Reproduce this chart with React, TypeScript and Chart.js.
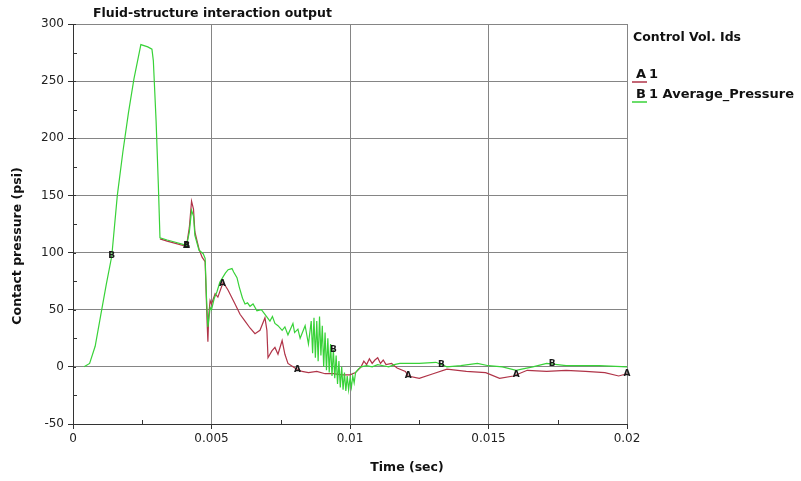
import React, { useEffect, useRef } from "react";
import { Chart, registerables } from "chart.js";
Chart.register(...registerables);

const chartTitle = "Fluid-structure interaction output";
const xAxisTitle = "Time (sec)";
const yAxisTitle = "Contact pressure (psi)";
const legendTitle = "Control Vol. Ids";
const seriesLetters = ["A", "B"];
const seriesNames = ["1", "1 Average_Pressure"];
const xTickLabels = ["0", "0.005", "0.01", "0.015", "0.02"];

// Series A (red) : "1"
const timeA = [
  0.00314, 0.0034, 0.0037, 0.004, 0.0041, 0.0042, 0.00428, 0.00435, 0.0044, 0.00455,
  0.00466, 0.00477, 0.00484, 0.00487, 0.0049, 0.00495, 0.005, 0.00513, 0.00523, 0.00542,
  0.0056, 0.00585, 0.00603, 0.00621, 0.00639, 0.00657, 0.00675, 0.00693, 0.007, 0.00704,
  0.00718, 0.00729, 0.0074, 0.00755, 0.00765, 0.00776, 0.00801, 0.00827, 0.0085, 0.0088,
  0.0091, 0.0094, 0.0097, 0.01, 0.0102, 0.0104, 0.0105, 0.0106, 0.0107, 0.0108,
  0.0109, 0.011, 0.0111, 0.0112, 0.0113, 0.0115, 0.0117, 0.012, 0.0121, 0.0125,
  0.013, 0.0135, 0.0142, 0.0149, 0.0154, 0.0159, 0.0164, 0.0171, 0.0178, 0.0185,
  0.0192, 0.0197, 0.02,
];
const pressureA = [
  112, 110, 108, 106, 106, 122, 145, 138, 118, 103,
  96, 92, 40, 22, 45, 58, 55, 64, 61, 74,
  67, 55, 46, 40, 34, 29, 32, 43, 32, 8,
  14, 17, 11, 23, 11, 3, -1, -4, -5, -4,
  -6, -6, -7, -7, -5, 0, 5, 2, 7, 3,
  6, 8, 3, 6, 2, 3, -1, -4, -8, -10,
  -6, -2, -4, -5, -10, -8, -3, -4, -3, -4,
  -5, -8, -6,
];

// Series B (green) : "1 Average_Pressure"
const timeB = [
  0.0004, 0.0006, 0.0008, 0.001, 0.0012, 0.0014, 0.0016, 0.0018, 0.002, 0.0022,
  0.00235, 0.00245, 0.0027, 0.00285, 0.0029, 0.003, 0.00308, 0.00314, 0.0034, 0.0037,
  0.004, 0.0041, 0.0042, 0.00428, 0.00435, 0.0044, 0.00455, 0.0047, 0.00477, 0.00482,
  0.00487, 0.00492, 0.00495, 0.005, 0.0051, 0.0052, 0.0053, 0.0055, 0.0056, 0.00574,
  0.0058, 0.00592, 0.006, 0.00612, 0.00621, 0.0063, 0.00639, 0.0065, 0.00664, 0.0068,
  0.00693, 0.00711, 0.0072, 0.00729, 0.0074, 0.00755, 0.00765, 0.00776, 0.00794, 0.008,
  0.00812, 0.0082, 0.00838, 0.0085, 0.0086, 0.00865, 0.0087, 0.00875, 0.0088, 0.00885,
  0.0089, 0.00895, 0.009, 0.00905, 0.0091, 0.00915, 0.0092, 0.00925, 0.0093, 0.00935,
  0.0094, 0.00945, 0.0095, 0.00955, 0.0096, 0.00965, 0.0097, 0.00975, 0.0098, 0.00985,
  0.0099, 0.00995, 0.01, 0.01005, 0.0101, 0.01015, 0.0102, 0.0103, 0.0104, 0.0106,
  0.0108, 0.011, 0.0112, 0.0114, 0.0116, 0.0118, 0.0125, 0.0131, 0.0135, 0.014,
  0.0146, 0.015, 0.0155, 0.016, 0.0162, 0.0166, 0.0171, 0.0178, 0.019, 0.02,
];
const pressureB = [
  0, 3, 18, 45, 72, 97, 150, 188, 222, 252,
  270, 282, 280, 278, 268, 215, 160, 113, 111, 109,
  107, 106, 118, 137, 132, 115, 102, 99, 95, 60,
  35, 45, 52, 50, 60, 66, 74, 82, 85, 86,
  83, 78, 70, 60, 55, 56, 53, 55, 49, 50,
  46, 40, 44, 38, 36, 32, 35, 28, 38, 30,
  33, 25, 36, 20, 40, 12, 43, 8, 40, 5,
  44, 10, 36, 0, 30, -3, 25, -5, 20, -8,
  15, -10, 10, -15, 5, -18, 0, -20, -5, -21,
  -8, -20, -10, -18, -8, -14, -5, -2, 0, 1,
  0, 2, 1, 0, 2, 3, 3, 4, 0, 1,
  3, 1, 0, -3, -2, 0, 3, 1, 1, 0,
];

const markerTimesA = [0.0041, 0.0054, 0.0081, 0.0121, 0.016, 0.02];
const markerTimesB = [0.0014, 0.0041, 0.0094, 0.0133, 0.0173];

const redColor = "#b03448";
const greenColor = "#38d238";
const FONT = "'DejaVu Sans', 'Liberation Sans', sans-serif";

function interp(ts: number[], ps: number[], t: number): number {
  if (t <= ts[0]) return ps[0];
  for (let i = 1; i < ts.length; i++) {
    if (t <= ts[i]) {
      const f = (t - ts[i - 1]) / (ts[i] - ts[i - 1]);
      return ps[i - 1] + f * (ps[i] - ps[i - 1]);
    }
  }
  return ps[ps.length - 1];
}

const decorPlugin = {
  id: "decor",
  afterDraw(chart: any) {
    const ctx = chart.ctx as CanvasRenderingContext2D;
    const xs = chart.scales.x;
    const ys = chart.scales.y;
    const area = chart.chartArea;
    ctx.save();

    // minor ticks
    ctx.strokeStyle = "#333";
    ctx.lineWidth = 1;
    ctx.beginPath();
    for (let v = -25; v < 300; v += 50) {
      const py = Math.round(ys.getPixelForValue(v)) + 0.5;
      ctx.moveTo(area.left, py);
      ctx.lineTo(area.left + 4, py);
    }
    for (let v = 0.0025; v < 0.02; v += 0.005) {
      const px = Math.round(xs.getPixelForValue(v)) + 0.5;
      ctx.moveTo(px, area.bottom);
      ctx.lineTo(px, area.bottom - 4);
    }
    for (let v = -50; v <= 300; v += 50) {
      const py = Math.round(ys.getPixelForValue(v)) + 0.5;
      ctx.moveTo(area.left, py);
      ctx.lineTo(area.left + 3, py);
    }
    ctx.stroke();

    // markers
    ctx.fillStyle = "#1a1a1a";
    ctx.font = `bold 9px ${FONT}`;
    ctx.textAlign = "center";
    ctx.textBaseline = "middle";
    const drawMarkers = (times: number[], ts: number[], ps: number[], letter: string) => {
      times.forEach((t) => {
        const v = interp(ts, ps, t);
        const px = xs.getPixelForValue(t);
        const py = ys.getPixelForValue(v);
        ctx.fillText(letter, px, py);
      });
    };
    drawMarkers(markerTimesA, timeA, pressureA, seriesLetters[0]);
    drawMarkers(markerTimesB, timeB, pressureB, seriesLetters[1]);

    // title
    ctx.fillStyle = "#111";
    ctx.font = `bold 12.5px ${FONT}`;
    ctx.textAlign = "left";
    ctx.textBaseline = "middle";
    ctx.fillText(chartTitle, 93, 14);

    // x axis title
    ctx.textAlign = "center";
    ctx.fillText(xAxisTitle, 407, 468);

    // y axis title
    ctx.save();
    ctx.translate(18, 246);
    ctx.rotate(-Math.PI / 2);
    ctx.fillText(yAxisTitle, 0, 0);
    ctx.restore();

    // legend
    ctx.textAlign = "left";
    ctx.fillText(legendTitle, 633, 38);
    ctx.font = `bold 13px ${FONT}`;
    const rows = [
      { y: 75, color: redColor },
      { y: 95, color: greenColor },
    ];
    rows.forEach((r, i) => {
      ctx.fillStyle = "#111";
      ctx.fillText(seriesLetters[i], 636, r.y);
      ctx.fillText(seriesNames[i], 649, r.y);
      ctx.strokeStyle = r.color;
      ctx.lineWidth = 1.5;
      ctx.beginPath();
      ctx.moveTo(632, r.y + 7);
      ctx.lineTo(647, r.y + 7);
      ctx.stroke();
    });

    ctx.restore();
  },
};

export default function App() {
  const ref = useRef<HTMLCanvasElement | null>(null);
  useEffect(() => {
    document.body.style.margin = "0";
    const canvas = ref.current!;
    const chart = new Chart(canvas, {
      type: "scatter",
      data: {
        datasets: [
          {
            label: seriesNames[1],
            data: timeB.map((t, i) => ({ x: t, y: pressureB[i] })),
            borderColor: greenColor,
            backgroundColor: greenColor,
            borderWidth: 1.2,
            showLine: true,
            pointRadius: 0,
            order: 0,
          },
          {
            label: seriesNames[0],
            data: timeA.map((t, i) => ({ x: t, y: pressureA[i] })),
            borderColor: redColor,
            backgroundColor: redColor,
            borderWidth: 1.2,
            showLine: true,
            pointRadius: 0,
            order: 1,
          },
        ],
      },
      options: {
        responsive: false,
        animation: false,
        devicePixelRatio: 1,
        layout: { padding: { left: 0, top: 24, right: 174, bottom: 0 } },
        plugins: {
          legend: { display: false },
          title: { display: false },
          tooltip: { enabled: false },
        },
        scales: {
          x: {
            type: "linear",
            min: 0,
            max: 0.02,
            afterFit: (s: any) => {
              s.height = 57;
            },
            ticks: {
              stepSize: 0.005,
              color: "#222",
              font: { family: FONT, size: 12 },
              padding: 3,
              maxRotation: 0,
              callback: (_v: any, i: number) => xTickLabels[i],
            },
            grid: {
              color: "#858585",
              tickColor: "#333",
              tickLength: 5,
            },
            border: { color: "#333", width: 1 },
          },
          y: {
            type: "linear",
            min: -50,
            max: 300,
            afterFit: (s: any) => {
              s.width = 73;
            },
            ticks: {
              stepSize: 50,
              color: "#222",
              font: { family: FONT, size: 12 },
              padding: 4,
            },
            grid: {
              color: "#858585",
              tickColor: "#333",
              tickLength: 5,
            },
            border: { color: "#333", width: 1 },
          },
        },
      },
      plugins: [decorPlugin],
    });
    return () => chart.destroy();
  }, []);
  return (
    <canvas
      ref={ref}
      width={801}
      height={481}
      style={{ display: "block", width: 801, height: 481 }}
    />
  );
}
